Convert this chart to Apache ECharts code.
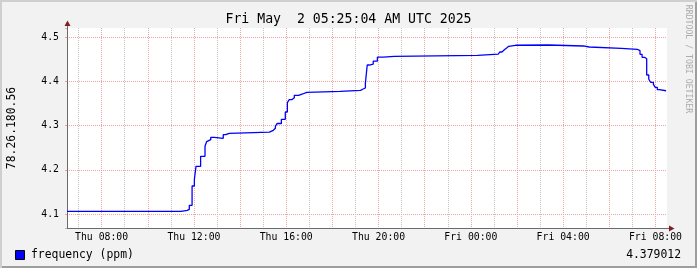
<!DOCTYPE html>
<html><head><meta charset="utf-8">
<script src="https://cdn.jsdelivr.net/npm/echarts@6/dist/echarts.min.js"></script>
<style>
html,body{margin:0;padding:0;background:#f2f2f2;}
#c{width:697px;height:268px;background:#f2f2f2;box-shadow:inset 2px 2px 0 #cfcfcf, inset -2px -2px 0 #9e9e9e;}
</style></head><body><div id="c"></div>
<script>
// ---- texts ----
const titleText = 'Fri May  2 05:25:04 AM UTC 2025';
const hostName = '78.26.180.56';
const seriesName = 'frequency (ppm)';
const watermark = 'RRDTOOL / TOBI OETIKER';
const dayNames = ['Thu', 'Fri'];

// ---- data: hours since Thu 00:00 where the value changes, and the value from there on ----
const stepHours = [6.5, 11.44, 11.71, 11.80, 11.92, 12.02, 12.09, 12.29, 12.48, 12.55, 12.63, 12.73, 12.88,
  13.27, 13.38, 13.53, 15.27, 15.44, 15.53, 15.61, 15.79, 15.96, 16.05, 16.13, 16.24, 16.35, 16.54, 16.71,
  16.89, 18.34, 19.22, 19.31, 19.43, 19.51, 19.60, 19.77, 19.95, 20.21, 20.68, 24.29, 25.19, 25.26, 25.35,
  25.44, 25.55, 25.64, 25.93, 27.36, 28.87, 29.13, 30.52, 31.21, 31.33, 31.42, 31.53, 31.62, 31.71, 31.79,
  31.91, 31.99, 32.08, 32.17, 32.46];
const stepValues = [4.1061, 4.1084, 4.1106, 4.1197, 4.1634, 4.1786, 4.2080, 4.2306, 4.2533, 4.2637, 4.2682,
  4.2736, 4.2714, 4.2795, 4.2827, 4.2853, 4.2895, 4.2940, 4.2992, 4.3049, 4.3144, 4.3309, 4.3520, 4.3588,
  4.3633, 4.3687, 4.3717, 4.3755, 4.3778, 4.3800, 4.3825, 4.3853, 4.3959, 4.4373, 4.4391, 4.4459, 4.4550,
  4.4570, 4.4593, 4.4618, 4.4645, 4.4668, 4.4713, 4.4758, 4.4797, 4.4820, 4.4826, 4.4804, 4.4781, 4.4751,
  4.4729, 4.4697, 4.4616, 4.4548, 4.4516, 4.4147, 4.4050, 4.3982, 4.3936, 4.3868, 4.3814, 4.379012, 4.379012];

// ---- axis ranges ----
const xStart = 6.5, xEnd = 32.5;
const yMin = 4.0683, yMax = 4.5211;

// ---- layout / style ----
const gL = 67, gT = 28, gW = 600, gH = 200;
const gR = gL + gW, gB = gT + gH;
const mono = 'DejaVu Sans Mono';
const minorGrid = '#c2c2c2', majorGrid = '#eca4a4', axisCol = '#6a6a6a', arrowCol = '#801f1f';

function xLabel(v) {
  const h = Math.round(v * 2) / 2;
  if (Math.abs(h % 4) > 1e-6) return '';
  const day = dayNames[Math.floor(h / 24)];
  const hh = h % 24;
  return day + ' ' + String(hh).padStart(2, '0') + ':00';
}
function yLabel(v) {
  const t = v * 10;
  return Math.abs(t - Math.round(t)) < 1e-6 ? v.toFixed(1) : '';
}

const lastValue = stepValues[stepValues.length - 1];

const chart = echarts.init(document.getElementById('c'), null, {renderer: 'canvas'});
chart.setOption({
  backgroundColor: 'transparent',
  animation: false,
  title: {
    text: titleText, left: 'center', top: 12.5, padding: 0,
    textStyle: {fontFamily: mono, fontSize: 13.2, fontWeight: 'normal', color: '#000', lineHeight: 15}
  },
  grid: {left: gL, top: gT, width: gW, height: gH, show: true, backgroundColor: '#fff', borderWidth: 0,
         containLabel: false, outerBoundsMode: 'none'},
  xAxis: {
    type: 'value', min: xStart, max: xEnd, interval: 0.5,
    axisLine: {show: true, onZero: false, lineStyle: {color: axisCol, width: 1}},
    axisTick: {show: false},
    axisLabel: {formatter: xLabel, fontFamily: mono, fontSize: 9.8, color: '#000', margin: 4, showMinLabel: true, showMaxLabel: true},
    splitLine: {show: true, lineStyle: {color: ['rgba(0,0,0,0)', minorGrid, 'rgba(0,0,0,0)', majorGrid], width: 1, type: [1, 1]}}
  },
  yAxis: {
    type: 'value', min: yMin, max: yMax, splitNumber: 5,
    name: hostName, nameLocation: 'middle', nameGap: 49, nameRotate: 90,
    nameTextStyle: {fontFamily: mono, fontSize: 11.4, color: '#000'},
    axisLine: {show: true, onZero: false, lineStyle: {color: axisCol, width: 1}},
    axisTick: {show: true, length: 2, lineStyle: {color: majorGrid}},
    axisLabel: {formatter: yLabel, fontFamily: mono, fontSize: 9.8, color: '#000', margin: 8},
    splitLine: {show: true, showMaxLine: false, lineStyle: {color: majorGrid, width: 1, type: [1, 1]}}
  },
  series: [{
    name: seriesName, type: 'line', step: 'end', symbol: 'none', showSymbol: false,
    lineStyle: {color: '#0000ff', width: 1.3}, itemStyle: {color: '#0000ff'},
    data: stepHours.map((h, i) => [h, stepValues[i]])
  }],
  graphic: [
    {type: 'line', shape: {x1: gL + 0.5, y1: gT, x2: gL + 0.5, y2: gT - 3}, style: {stroke: axisCol, lineWidth: 1}},
    {type: 'polygon', shape: {points: [[gL - 2.5, gT - 2], [gL + 3.5, gT - 2], [gL + 0.5, gT - 7.5]]}, style: {fill: arrowCol}},
    {type: 'line', shape: {x1: gR, y1: gB + 0.5, x2: gR + 3, y2: gB + 0.5}, style: {stroke: axisCol, lineWidth: 1}},
    {type: 'polygon', shape: {points: [[gR + 2, gB - 2.5], [gR + 2, gB + 3.5], [gR + 7.5, gB + 0.5]]}, style: {fill: arrowCol}},
    {type: 'rect', shape: {x: 15.5, y: 250.5, width: 9, height: 9}, style: {fill: '#0000ff', stroke: '#000', lineWidth: 1}},
    {type: 'text', x: 31, y: 255, style: {text: seriesName, font: '11.4px "DejaVu Sans Mono"', fill: '#000', align: 'left', verticalAlign: 'middle'}},
    {type: 'text', x: 681, y: 255, style: {text: lastValue.toFixed(6), font: '11.4px "DejaVu Sans Mono"', fill: '#000', align: 'right', verticalAlign: 'middle'}},
    {type: 'text', x: 688, y: 59, rotation: -Math.PI / 2, style: {text: watermark, font: '8.2px "DejaVu Sans Mono"', fill: '#ababab', align: 'center', verticalAlign: 'middle'}}
  ]
});
</script>
</body></html>
